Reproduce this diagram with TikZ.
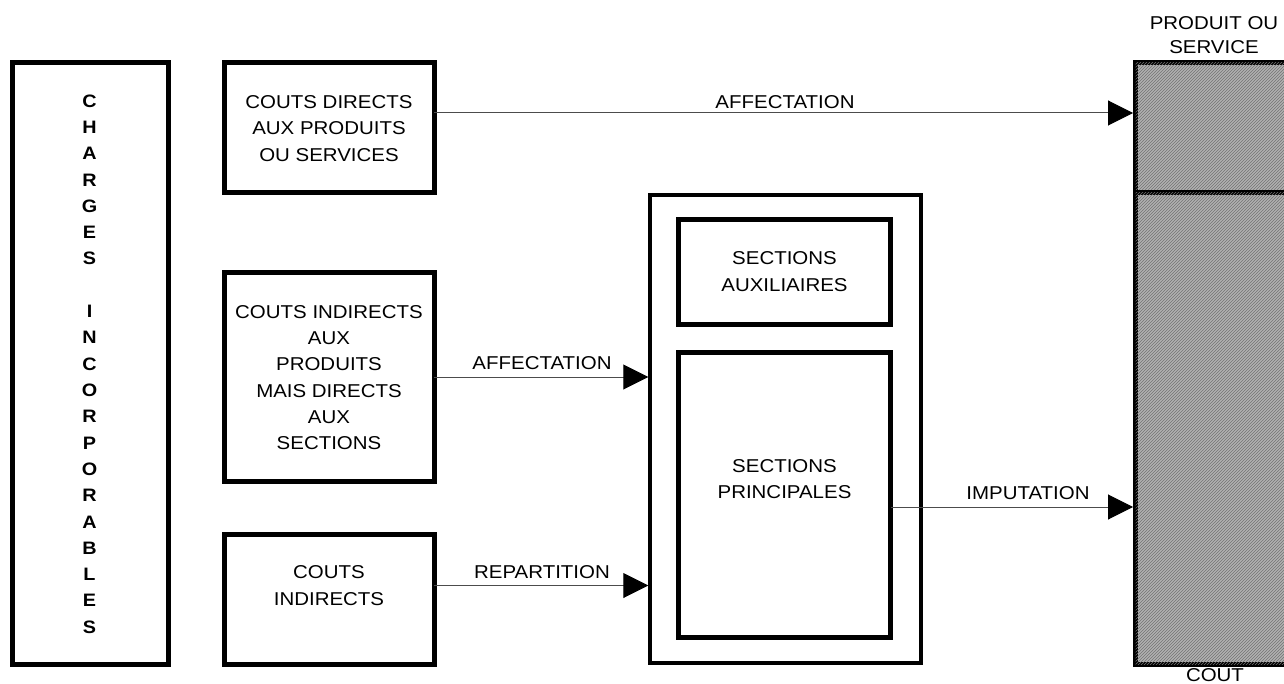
\documentclass[tikz,border=0pt]{standalone}
\usepackage{fontspec}
\setmainfont[FakeStretch=1.1]{Liberation Sans}
\usetikzlibrary{arrows.meta,patterns}
\begin{document}
\begin{tikzpicture}[x=1pt,y=-1pt,
  every node/.style={font=\fontsize{18.6}{26.3}\selectfont, align=center, inner sep=0pt, outer sep=0pt},
  frame/.style={draw, line width=5pt},
  thinframe/.style={draw, line width=3.5pt},
  hatchbox/.style={draw, line width=5pt, fill=black!30, postaction={pattern=north east lines, pattern color=black!55}},
  conn/.style={line width=1pt, draw=black!70, -{Triangle[length=25pt,width=25pt,color=black,fill=black]}, shorten >=2.5pt},
]
\useasboundingbox (0,0) rectangle (1284,684);

% boxes
\node[frame, minimum width=156pt, minimum height=602pt] (charges) at (90,363.5) {};
\node[frame, minimum width=210pt, minimum height=130pt] (cd) at (329,127.5) {};
\node[frame, minimum width=210pt, minimum height=208.5pt] (ci) at (329,376.75) {};
\node[frame, minimum width=210pt, minimum height=130pt] (ind) at (329,599.5) {};
\node[thinframe, minimum width=271pt, minimum height=468pt] (sections) at (785.5,429) {};
\node[frame, minimum width=212pt, minimum height=105pt] (sa) at (784.5,272) {};
\node[frame, minimum width=212pt, minimum height=284.5pt] (sp) at (784.5,494.75) {};
\node[hatchbox, minimum width=170pt, minimum height=130pt, anchor=north west] (ps) at (1135.5,62.5) {};
\node[hatchbox, minimum width=170pt, minimum height=472pt, anchor=north west] (cost) at (1135.5,192.5) {};

% texts
\node[font=\bfseries\fontsize{18}{26.3}\selectfont] (chtext) at (89.5,364) {C\\H\\A\\R\\G\\E\\S\\[26.3pt]I\\N\\C\\O\\R\\P\\O\\R\\A\\B\\L\\E\\S};
\node (cdtext) at (329,128.5) {COUTS DIRECTS\\AUX PRODUITS\\OU SERVICES};
\node (citext) at (329,377.5) {COUTS INDIRECTS\\AUX\\PRODUITS\\MAIS DIRECTS\\AUX\\SECTIONS};
\node (indtext) at (329,585.5) {COUTS\\INDIRECTS};
\node (satext) at (784.5,271.5) {SECTIONS\\AUXILIAIRES};
\node (sptext) at (784.5,479) {SECTIONS\\PRINCIPALES};
\node[font=\fontsize{18.6}{24}\selectfont] (pstext) at (1214,35) {PRODUIT OU\\SERVICE};
\node (couttext) at (1215,675) {COUT};

% connectors
\coordinate (a1s) at (cd.east |- 0,113);
\coordinate (a1e) at (ps.west |- 0,113);
\draw[conn] (a1s) -- (a1e);
\node (l1) at (785,102) {AFFECTATION};

\coordinate (a2s) at (ci.east |- 0,377);
\coordinate (a2e) at (sections.west |- 0,377);
\draw[conn, shorten >=1.75pt] (a2s) -- (a2e);
\node (l2) at (542,363) {AFFECTATION};

\coordinate (a3s) at (ind.east |- 0,585.5);
\coordinate (a3e) at (sections.west |- 0,585.5);
\draw[conn, shorten >=1.75pt] (a3s) -- (a3e);
\node (l3) at (542,572) {REPARTITION};

\coordinate (a4s) at (sp.east |- 0,507);
\coordinate (a4e) at (cost.west |- 0,507);
\draw[conn] (a4s) -- (a4e);
\node (l4) at (1028,493) {IMPUTATION};
\end{tikzpicture}
\end{document}
